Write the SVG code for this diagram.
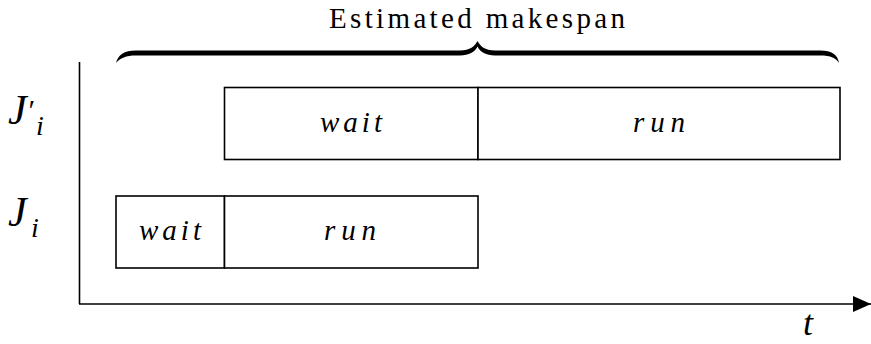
<svg xmlns="http://www.w3.org/2000/svg" width="871" height="344" viewBox="0 0 871 344">
<style>
.box{fill:#fff;stroke:#000;stroke-width:1.6}
.ln{stroke:#000;stroke-width:1.6;fill:none}
.m{font-family:"Liberation Serif","DejaVu Serif",serif;font-style:italic;font-size:29px;fill:#000}
.lab{font-family:"Liberation Serif","DejaVu Serif",serif;font-style:italic;fill:#000}
.title{font-family:"Liberation Serif","DejaVu Serif",serif;font-size:29px;fill:#000}
</style>
<defs>
<marker id="arr" markerWidth="18" markerHeight="16" refX="18" refY="8" orient="auto" markerUnits="userSpaceOnUse">
<path d="M0,0 L18,8 L0,16 Z" fill="#000"/>
</marker>
</defs>
<rect width="871" height="344" fill="#fff"/>
<g id="axes">
<line class="ln" x1="79.5" y1="62" x2="79.5" y2="304"/>
<line class="ln" x1="79" y1="304" x2="871" y2="304" marker-end="url(#arr)"/>
<text class="lab" x="803" y="335" font-size="36">t</text>
</g>
<g id="brace">
<path d="M116,63 C118,55 124,50.5 136,50.5 L460,50.5 C470,50.5 475,46 477.5,41 C480,46 485,50.5 495,50.5 L820,50.5 C832,50.5 838,55 839,63 C836,58 831,55.5 820,55.5 L495,55.5 C486,55.5 480,52 477.5,46.5 C475,52 469,55.5 460,55.5 L136,55.5 C126,55.5 120,58 116,63 Z" fill="#000"/>
<text class="title" x="477" y="28" text-anchor="middle" textLength="296" lengthAdjust="spacing">Estimated makespan</text>
</g>
<g id="job-prime">
<text class="lab" x="8" y="124" font-size="42">J<tspan font-size="30" dy="-4">′</tspan><tspan font-size="28" x="36" y="135">i</tspan></text>
<rect class="box" x="224.5" y="87.5" width="253.5" height="72"/>
<rect class="box" x="478" y="87.5" width="362" height="72"/>
<text class="m" x="351" y="132" text-anchor="middle" textLength="62" lengthAdjust="spacing">wait</text>
<text class="m" x="659" y="132" text-anchor="middle" textLength="52" lengthAdjust="spacing">run</text>
</g>
<g id="job">
<text class="lab" x="8" y="226" font-size="42">J<tspan font-size="28" x="31" y="237">i</tspan></text>
<rect class="box" x="116" y="196" width="108.5" height="72"/>
<rect class="box" x="224.5" y="196" width="253.5" height="72"/>
<text class="m" x="170" y="240" text-anchor="middle" textLength="62" lengthAdjust="spacing">wait</text>
<text class="m" x="350" y="240" text-anchor="middle" textLength="52" lengthAdjust="spacing">run</text>
</g>
</svg>
